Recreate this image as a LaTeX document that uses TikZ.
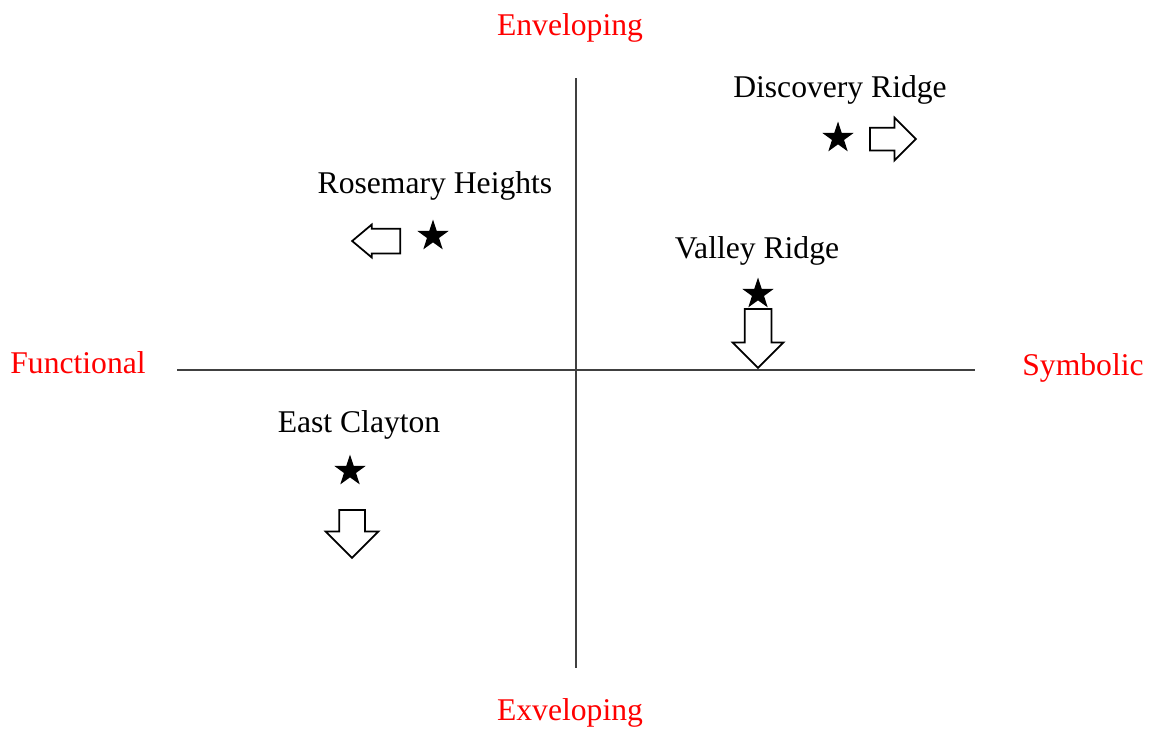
\documentclass[tikz,border=0pt]{standalone}
\usepackage{fontspec}
\setmainfont{Liberation Serif}
\usetikzlibrary{shapes.geometric, shapes.arrows}

\begin{document}
\begin{tikzpicture}[
    x=0.02cm, y=-0.02cm,
    every node/.style={font=\fontsize{18}{22}\selectfont},
    pole/.style={text=red, anchor=base},
    place/.style={anchor=base},
    axis/.style={draw=black!75, line width=0.7pt},
    starmark/.style={star, star points=5, star point ratio=2.6, fill=black, draw=none, inner sep=0pt, minimum size=0.66cm},
    blockarrow/.style={single arrow, draw=black, line width=1pt, fill=white, inner sep=0pt, single arrow head indent=0pt, anchor=tail},
    sideways/.style={blockarrow, inner ysep=#1},
    downward/.style={blockarrow, shape border rotate=270, inner xsep=#1},
]
\useasboundingbox (0,0) rectangle (1151,728);

% Axes
\coordinate (top) at (576,78);
\coordinate (bottom) at (576,668);
\coordinate (left) at (177,370);
\coordinate (right) at (975,370);
\draw[axis] (top) -- (bottom);
\draw[axis] (left) -- (right);

% Pole labels
\node[pole] (enveloping) at (570,35) {Enveloping};
\node[pole] (exveloping) at (570,720) {Exveloping};
\node[pole] (functional) at (78,373) {Functional};
\node[pole] (symbolic) at (1083,375) {Symbolic};

% Neighbourhoods
\node[place] (discovery) at (840,97) {Discovery Ridge};
\node[place] (rosemary) at (435,193) {Rosemary Heights};
\node[place] (valley) at (757,258) {Valley Ridge};
\node[place] (clayton) at (359,432) {East Clayton};

% Stars
\node[starmark] (discovery star) at (838,138) {};
\node[starmark] (rosemary star) at (433,236) {};
\node[starmark] (valley star) at (758,294) {};
\node[starmark] (clayton star) at (350,471) {};

% Direction arrows (placed by their tails)
\node[sideways=0.21cm, minimum height=0.92cm, single arrow head extend=0.2cm] (discovery move) at (869,139) {};
\node[sideways=0.23cm, shape border rotate=180, minimum height=0.96cm, single arrow head extend=0.08cm, single arrow tip angle=80] (rosemary move) at (401,241) {};
\node[downward=0.25cm, minimum height=1.18cm, single arrow head extend=0.24cm] (valley move) at (758,308) {};
\node[downward=0.24cm, minimum height=0.96cm, single arrow head extend=0.27cm] (clayton move) at (352,509) {};

\end{tikzpicture}
\end{document}
